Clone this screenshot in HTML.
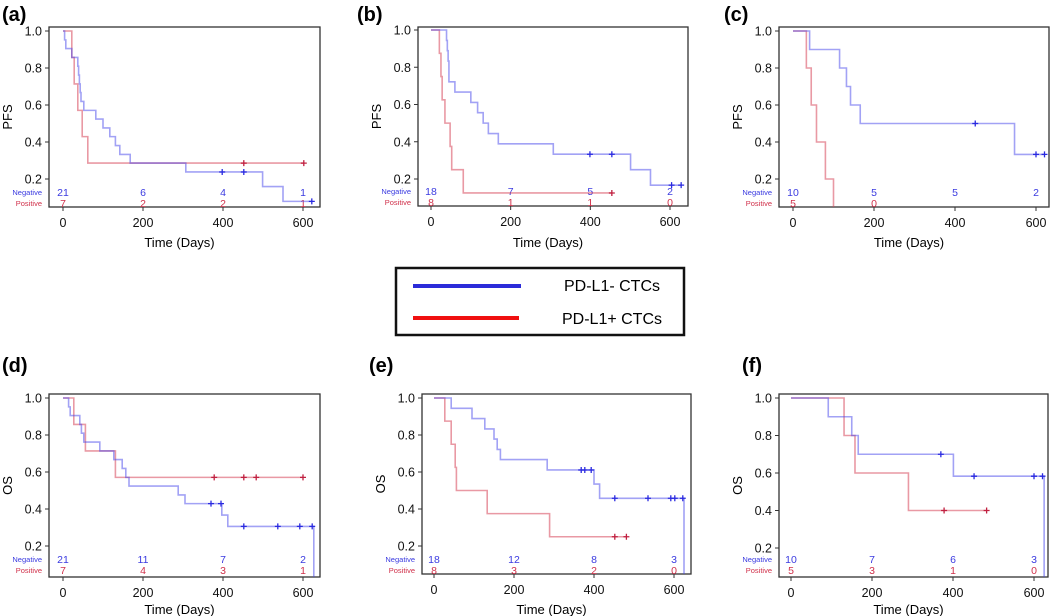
<!DOCTYPE html>
<html><head><meta charset="utf-8"><style>
html,body{margin:0;padding:0;background:#fff;}
svg{display:block;font-family:"Liberation Sans",Arial,sans-serif;}
</style></head><body>
<svg id="fig" width="1050" height="616" viewBox="0 0 1050 616" xmlns="http://www.w3.org/2000/svg">
<g>
<rect x="396" y="268" width="288" height="67" fill="#fff" stroke="#111" stroke-width="2.5"/>
<line x1="413" y1="286" x2="521" y2="286" stroke="#2b2bd9" stroke-width="4"/>
<text x="612" y="291" font-size="16" text-anchor="middle">PD-L1- CTCs</text>
<line x1="413" y1="318" x2="519" y2="318" stroke="#f01010" stroke-width="4"/>
<text x="612" y="324" font-size="16" text-anchor="middle">PD-L1+ CTCs</text>
</g>
</svg>
<script>
// shared tick arrays
const xTicks = [0, 200, 400, 600];
const yTicks = [0.2, 0.4, 0.6, 0.8, 1.0];
const riskTimes = [0, 200, 400, 600];

// (a) PFS cohort
const a_neg_t = [4, 7, 22, 37, 39, 41, 43, 45, 52, 82, 100, 117, 131, 142, 168, 307, 499, 550];
const a_neg_s = [0.952, 0.905, 0.857, 0.810, 0.762, 0.714, 0.667, 0.619, 0.571, 0.524, 0.476, 0.429, 0.381, 0.333, 0.286, 0.238, 0.159, 0.079];
const a_neg_c = [398, 452, 622];
const a_pos_t = [22, 28, 37, 48, 62];
const a_pos_s = [0.857, 0.714, 0.571, 0.429, 0.286];
const a_pos_c = [452, 602];
const a_risk_neg = ["21", "6", "4", "1"];
const a_risk_pos = ["7", "2", "2", "1"];

// (b) PFS cohort
const b_neg_t = [39, 41, 43, 45, 60, 100, 117, 131, 144, 169, 307, 501, 551];
const b_neg_s = [0.944, 0.889, 0.833, 0.722, 0.667, 0.611, 0.556, 0.5, 0.444, 0.389, 0.333, 0.25, 0.167];
const b_neg_c = [399, 454, 604, 628];
const b_pos_t = [21, 25, 28, 35, 48, 52, 81];
const b_pos_s = [0.875, 0.75, 0.625, 0.5, 0.375, 0.25, 0.125];
const b_pos_c = [454];
const b_risk_neg = ["18", "7", "5", "2"];
const b_risk_pos = ["8", "1", "1", "0"];

// (c) PFS cohort
const c_neg_t = [41, 115, 132, 142, 166, 547];
const c_neg_s = [0.9, 0.8, 0.7, 0.6, 0.5, 0.333];
const c_neg_c = [450, 600, 621];
const c_pos_t = [33, 45, 58, 80, 100];
const c_pos_s = [0.8, 0.6, 0.4, 0.2, 0];
const c_pos_c = [];
const c_risk_neg = ["10", "5", "5", "2"];
const c_risk_pos = ["5", "0", "", ""];

// (d) OS cohort
const d_neg_t = [14, 18, 42, 46, 52, 92, 127, 148, 157, 165, 288, 305, 397, 412, 627];
const d_neg_s = [0.952, 0.905, 0.857, 0.810, 0.762, 0.714, 0.667, 0.619, 0.571, 0.524, 0.476, 0.429, 0.367, 0.306, 0];
const d_neg_c = [370, 395, 452, 537, 592, 623];
const d_pos_t = [27, 56, 131];
const d_pos_s = [0.857, 0.714, 0.571];
const d_pos_c = [378, 452, 483, 600];
const d_risk_neg = ["21", "11", "7", "2"];
const d_risk_pos = ["7", "4", "3", "1"];

// (e) OS cohort
const e_neg_t = [43, 95, 127, 150, 158, 166, 283, 400, 414, 625];
const e_neg_s = [0.944, 0.889, 0.833, 0.778, 0.722, 0.667, 0.611, 0.535, 0.458, 0];
const e_neg_c = [368, 377, 393, 452, 535, 592, 602, 622];
const e_pos_t = [27, 43, 53, 56, 133, 289];
const e_pos_s = [0.875, 0.75, 0.625, 0.5, 0.375, 0.25];
const e_pos_c = [452, 481];
const e_risk_neg = ["18", "12", "8", "3"];
const e_risk_pos = ["8", "3", "2", "0"];

// (f) OS cohort
const f_neg_t = [92, 150, 166, 401, 625];
const f_neg_s = [0.9, 0.8, 0.7, 0.583, 0];
const f_neg_c = [370, 452, 600, 621];
const f_pos_t = [131, 158, 290];
const f_pos_s = [0.8, 0.6, 0.4];
const f_pos_c = [378, 483];
const f_risk_neg = ["10", "7", "6", "3"];
const f_risk_pos = ["5", "3", "1", "0"];

const NS = "http://www.w3.org/2000/svg";
const svg = document.getElementById("fig");
function mk(tag, attrs, parent) {
  const e = document.createElementNS(NS, tag);
  for (const k in attrs) e.setAttribute(k, attrs[k]);
  (parent || svg).appendChild(e);
  return e;
}

const panels = [
  {id:"a", yt:"PFS", box:[49,27,320,207], x0:63, x6:303, y1:31, y2:179, lab:[2,21], xl:242, nt:a_neg_t, ns:a_neg_s, nc:a_neg_c, pt:a_pos_t, ps:a_pos_s, pc:a_pos_c, rn:a_risk_neg, rp:a_risk_pos},
  {id:"b", yt:"PFS", box:[418,27,688,206], x0:431, x6:670, y1:30, y2:179, lab:[357,21], xl:242, nt:b_neg_t, ns:b_neg_s, nc:b_neg_c, pt:b_pos_t, ps:b_pos_s, pc:b_pos_c, rn:b_risk_neg, rp:b_risk_pos},
  {id:"c", yt:"PFS", box:[779,27,1049,207], x0:793, x6:1036, y1:31, y2:179, lab:[724,21], xl:242, nt:c_neg_t, ns:c_neg_s, nc:c_neg_c, pt:c_pos_t, ps:c_pos_s, pc:c_pos_c, rn:c_risk_neg, rp:c_risk_pos},
  {id:"d", yt:"OS", box:[49,394,320,577], x0:63, x6:303, y1:398, y2:546, lab:[2,372], xl:609, nt:d_neg_t, ns:d_neg_s, nc:d_neg_c, pt:d_pos_t, ps:d_pos_s, pc:d_pos_c, rn:d_risk_neg, rp:d_risk_pos},
  {id:"e", yt:"OS", box:[422,394,691,574], x0:434, x6:674, y1:398, y2:546, lab:[369,372], xl:609, nt:e_neg_t, ns:e_neg_s, nc:e_neg_c, pt:e_pos_t, ps:e_pos_s, pc:e_pos_c, rn:e_risk_neg, rp:e_risk_pos},
  {id:"f", yt:"OS", box:[779,394,1048,577], x0:791, x6:1034, y1:398, y2:548, lab:[742,372], xl:609, nt:f_neg_t, ns:f_neg_s, nc:f_neg_c, pt:f_pos_t, ps:f_pos_s, pc:f_pos_c, rn:f_risk_neg, rp:f_risk_pos}
];

const defs = mk("defs", {});
panels.forEach(p => {
  const g = mk("g", {});
  
  
  const [L,T,R,B] = p.box;
  const xs = d => p.x0 + (p.x6 - p.x0) * d / 600;
  const ys = v => p.y1 + (p.y2 - p.y1) * (1 - v) / 0.8;

  const cp = mk("clipPath", {id:"clip-" + p.id}, defs);
  mk("rect", {x:L, y:T, width:R-L, height:B-T}, cp);

  const lbl = mk("text", {x:p.lab[0], y:p.lab[1], "font-size":20, "font-weight":"bold"}, g);
  lbl.textContent = "(" + p.id + ")";
  
  

  const box = mk("rect", {x:L, y:T, width:R-L, height:B-T, fill:"none", stroke:"#333", "stroke-width":1.3}, g);
  
  

  yTicks.forEach(v => {
    const y = ys(v);
    mk("line", {x1:L-4, x2:L, y1:y, y2:y, stroke:"#333", "stroke-width":1}, g);
    const t = mk("text", {x:L-7, y:y+4.5, "font-size":12.5, "text-anchor":"end", fill:"#111"}, g);
    t.textContent = v.toFixed(1);
    
    
  });
  xTicks.forEach(d => {
    const x = xs(d);
    mk("line", {x1:x, x2:x, y1:B, y2:B+4, stroke:"#333", "stroke-width":1}, g);
    const t = mk("text", {x:x, y:B+20, "font-size":12.5, "text-anchor":"middle", fill:"#111"}, g);
    t.textContent = d;
    
    
  });
  const ytl = mk("text", {x:0, y:0, "font-size":13, "text-anchor":"middle", transform:"translate(" + (L-37) + "," + ((T+B)/2) + ") rotate(-90)"}, g);
  ytl.textContent = p.yt;
  
  
  const xtl = mk("text", {x:(L+R)/2 - 5, y:p.xl + 5, "font-size":13, "text-anchor":"middle"}, g);
  xtl.textContent = "Time (Days)";
  
  

  // risk table
  const rn = mk("text", {x:L-7, y:ys(1)+164, "font-size":7.5, "text-anchor":"end", fill:"#3a3ae0"}, g);
  rn.textContent = "Negative";
  
  
  const rp = mk("text", {x:L-7, y:ys(1)+175, "font-size":7.5, "text-anchor":"end", fill:"#d0304a"}, g);
  rp.textContent = "Positive";
  
  
  riskTimes.forEach((d, i) => {
    const a = mk("text", {x:xs(d), y:ys(1)+165, "font-size":10.5, "text-anchor":"middle", fill:"#3a3ae0"}, g);
    a.textContent = p.rn[i];
    
    
    const b = mk("text", {x:xs(d), y:ys(1)+176, "font-size":10.5, "text-anchor":"middle", fill:"#d0304a"}, g);
    b.textContent = p.rp[i];
    
    
  });

  function curve(times, surv, cens, color, markColor, name) {
    const endT = Math.max(times.length ? times[times.length-1] : 0, cens.length ? Math.max(...cens) : 0);
    let d = "M" + xs(0) + "," + ys(1);
    let cur = 1;
    times.forEach((t, i) => {
      d += " H" + xs(t) + " V" + ys(surv[i]);
      cur = surv[i];
    });
    if (cur > 0) d += " H" + xs(endT);
    const path = mk("path", {d:d, fill:"none", stroke:color, "stroke-width":1.6, "clip-path":"url(#clip-" + p.id + ")"}, g);
    
    
    cens.forEach(c => {
      let v = 1;
      times.forEach((t, i) => { if (t <= c) v = surv[i]; });
      const x = xs(c), y = ys(v);
      const m = mk("path", {d:"M"+(x-3)+","+y+" H"+(x+3)+" M"+x+","+(y-3)+" V"+(y+3), stroke:markColor, "stroke-width":1.3}, g);
      
      
    });
  }
  curve(p.pt, p.ps, p.pc, "rgba(215,70,90,0.55)", "#c02040", "positive");
  curve(p.nt, p.ns, p.nc, "rgba(70,70,235,0.5)", "#2a2ae0", "negative");
});
</script>
</body></html>
